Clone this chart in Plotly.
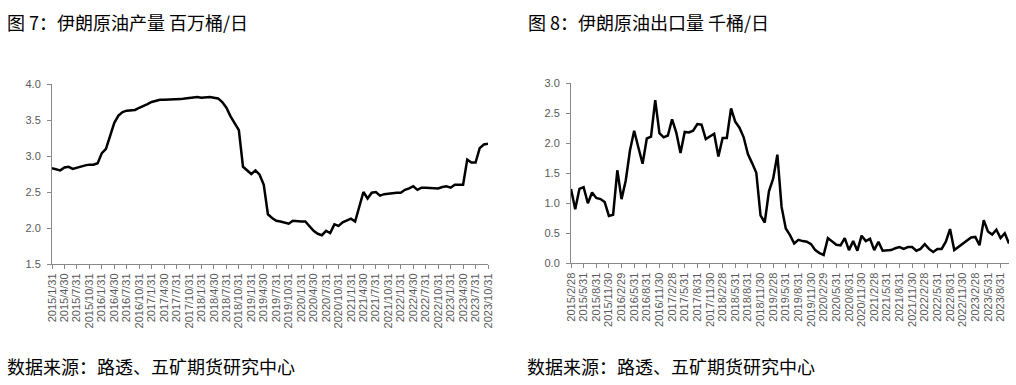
import calendar
import plotly.graph_objects as go

def month_ends(y, m, n):
    out = []
    for _ in range(n):
        d = calendar.monthrange(y, m)[1]
        out.append(f"{y}/{m}/{d}")
        m += 1
        if m > 12:
            m = 1
            y += 1
    return out

# Iran crude production, million b/d, monthly 2015/1 - 2023/10
prod_dates = month_ends(2015, 1, 106)
prod_values = [
    2.83, 2.82, 2.80, 2.84, 2.85, 2.82, 2.84, 2.86, 2.87, 2.88,
    2.88, 2.90, 3.04, 3.10, 3.27, 3.46, 3.56, 3.61, 3.63, 3.63,
    3.64, 3.67, 3.69, 3.72, 3.75, 3.77, 3.78, 3.78, 3.78, 3.78,
    3.79, 3.79, 3.80, 3.81, 3.82, 3.82, 3.81, 3.82, 3.82, 3.81,
    3.80, 3.75, 3.67, 3.55, 3.45, 3.36, 2.85, 2.80, 2.75, 2.80,
    2.74, 2.60, 2.19, 2.14, 2.10, 2.09, 2.07, 2.06, 2.10, 2.09,
    2.09, 2.09, 2.03, 1.96, 1.92, 1.90, 1.96, 1.93, 2.05, 2.03,
    2.08, 2.10, 2.13, 2.09, 2.30, 2.50, 2.41, 2.49, 2.50, 2.45,
    2.47, 2.48, 2.49, 2.49, 2.49, 2.53, 2.55, 2.58, 2.53, 2.56,
    2.56, 2.56, 2.56, 2.55, 2.57, 2.58, 2.56, 2.60, 2.60, 2.60,
    2.95, 2.91, 2.91, 3.11, 3.16, 3.17,
]

# Iran crude exports, monthly 2015/2 - 2023/10
exp_dates = month_ends(2015, 2, 105)
exp_values = [
    1.24, 0.90, 1.24, 1.27, 1.00, 1.18, 1.09, 1.07, 1.02, 0.79,
    0.81, 1.55, 1.07, 1.38, 1.88, 2.21, 1.93, 1.66, 2.08, 2.11,
    2.72, 2.17, 2.10, 2.13, 2.40, 2.18, 1.84, 2.19, 2.18, 2.21,
    2.32, 2.31, 2.07, 2.11, 2.16, 1.78, 2.09, 2.09, 2.58, 2.36,
    2.26, 2.10, 1.82, 1.67, 1.51, 0.80, 0.68, 1.20, 1.41, 1.81,
    0.94, 0.58, 0.47, 0.33, 0.39, 0.37, 0.36, 0.32, 0.22, 0.17,
    0.14, 0.42, 0.37, 0.31, 0.30, 0.42, 0.22, 0.37, 0.21, 0.46,
    0.37, 0.41, 0.22, 0.36, 0.21, 0.22, 0.22, 0.25, 0.27, 0.24,
    0.27, 0.27, 0.21, 0.24, 0.32, 0.24, 0.19, 0.24, 0.24, 0.36,
    0.57, 0.22, 0.27, 0.32, 0.37, 0.43, 0.44, 0.30, 0.72, 0.53,
    0.48, 0.56, 0.42, 0.50, 0.33,
]

prod_ticks = prod_dates[::3]
exp_ticks = exp_dates[::3]

title_left = "图 7：伊朗原油产量 百万桶/日"
title_right = "图 8：伊朗原油出口量 千桶/日"
source_text = "数据来源：路透、五矿期货研究中心"

W, H = 1016, 385
fig = go.Figure()
fig.add_trace(go.Scatter(x=prod_dates, y=prod_values, mode="lines",
                         line=dict(color="black", width=2.5),
                         xaxis="x", yaxis="y", showlegend=False))
fig.add_trace(go.Scatter(x=exp_dates, y=exp_values, mode="lines",
                         line=dict(color="black", width=2.5),
                         xaxis="x2", yaxis="y2", showlegend=False))

tick_font = dict(family="Liberation Sans, Arial, sans-serif", size=11, color="#595959")
axis_common = dict(showgrid=False, zeroline=False, showline=True,
                   linecolor="#898989", linewidth=1, ticks="outside",
                   tickcolor="#898989", ticklen=4, tickfont=tick_font,
                   automargin=False)

fig.update_layout(
    width=W, height=H,
    margin=dict(l=0, r=0, t=0, b=0),
    paper_bgcolor="white", plot_bgcolor="white",
    xaxis=dict(domain=[52 / W, 488 / W], type="category",
               range=[0, len(prod_dates) - 1],
               tickmode="array", tickvals=prod_ticks, ticktext=prod_ticks,
               tickangle=-90, anchor="y", **axis_common),
    yaxis=dict(domain=[1 - 264 / H, 1 - 84 / H], range=[1.5, 4.0],
               dtick=0.5, tickformat=".1f", anchor="x",
               ticklabelstandoff=4, **axis_common),
    xaxis2=dict(domain=[571 / W, 1009 / W], type="category",
                range=[0, len(exp_dates) - 1],
                tickmode="array", tickvals=exp_ticks, ticktext=exp_ticks,
                tickangle=-90, anchor="y2", **axis_common),
    yaxis2=dict(domain=[1 - 263.3 / H, 1 - 83.3 / H], range=[0, 3.0],
                dtick=0.5, tickformat=".1f", anchor="x2",
                ticklabelstandoff=4, **axis_common),
)

cjk = dict(family="Noto Sans CJK SC, sans-serif", size=18, color="black")
for txt, x, y in [(title_left, 5, 22), (title_right, 526, 22),
                  (source_text, 5, 366), (source_text, 525, 366)]:
    fig.add_annotation(text=txt, xref="paper", yref="paper",
                       x=x / W, y=1 - y / H, xanchor="left", yanchor="middle",
                       showarrow=False, font=cjk)

fig.write_html("out.html")
